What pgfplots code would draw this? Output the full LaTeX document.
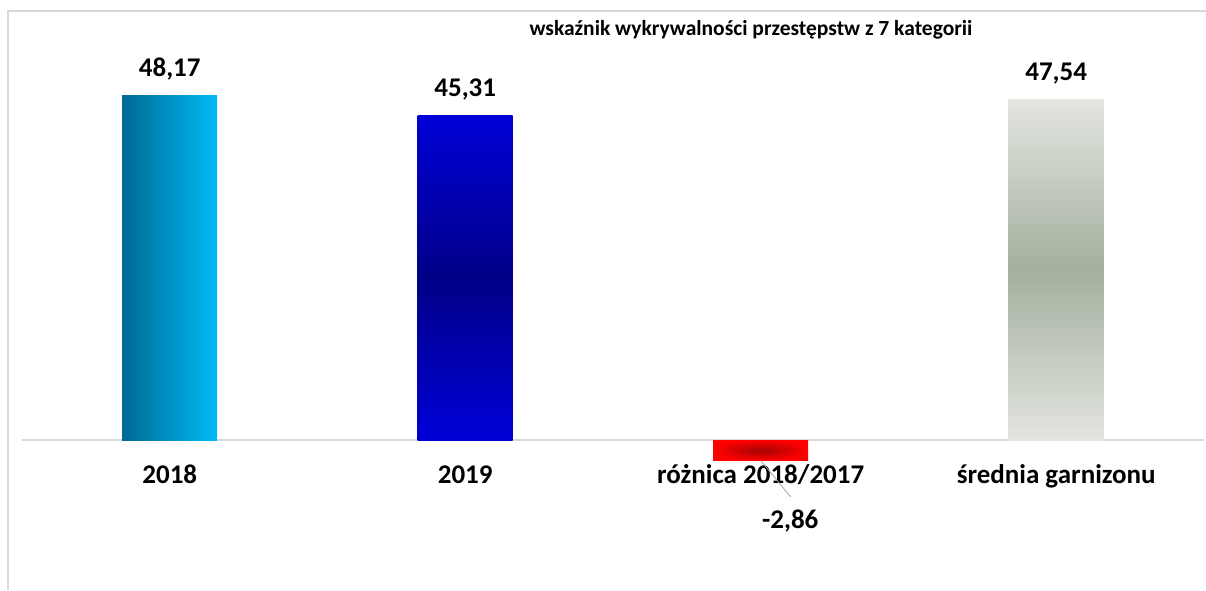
\documentclass[border=0pt]{standalone}
\usepackage{pgfplots}
\pgfplotsset{compat=1.18}
\usepackage{fontspec}
\setmainfont{Carlito}
\definecolor{framegray}{RGB}{217,217,217}
\definecolor{leadgray}{RGB}{166,166,166}
\definecolor{tealdark}{RGB}{0,105,148}
\definecolor{cyanlight}{RGB}{0,187,246}
\definecolor{navyin}{RGB}{0,0,135}
\definecolor{blueout}{RGB}{0,0,215}
\definecolor{redin}{RGB}{165,5,5}
\definecolor{redout}{RGB}{255,0,0}
\definecolor{grayin}{RGB}{163,176,158}
\definecolor{grayout}{RGB}{227,229,224}

\begin{document}
\begin{tikzpicture}[x=1pt,y=1pt]
\path[use as bounding box] (0,0) rectangle (1206,590);
\draw[framegray, line width=1.5pt] (8,0) -- (8,579) -- (1206,579);
\node[font=\fontsize{21.5}{26}\selectfont\bfseries] at (751,560)
  {wskaźnik wykrywalności przestępstw z 7 kategorii};

\begin{axis}[
    at={(22pt,128.5pt)}, anchor=south west, scale only axis,
    width=1182pt, height=379.5pt,
    xmin=-0.5, xmax=3.5, ymin=-3, ymax=50,
    axis line style={draw=none},
    ytick=\empty,
    xtick={0,1,2,3},
    xticklabels={2018,2019,różnica 2018/2017,średnia garnizonu},
    major tick length=0pt,
    xticklabel style={anchor=base, yshift=-21.5pt,
        font=\fontsize{27}{32}\selectfont\bfseries},
    clip=false,
    nodes near coords, point meta=y,
    nodes near coords style={font=\fontsize{27}{32}\selectfont\bfseries,
        inner sep=0pt, yshift=14.8pt,
        /pgf/number format/fixed, /pgf/number format/fixed zerofill,
        /pgf/number format/precision=2, /pgf/number format/use comma,
        /pgf/number format/assume math mode=true},
]
\draw[framegray, line width=1.5pt] (axis cs:-0.5,0) -- (axis cs:3.5,0);

% 2018
\addplot[ybar, bar width=95pt, bar shift=0pt, draw=none,
    left color=tealdark, right color=cyanlight]
    coordinates {(0,48.17)};
% 2019
\addplot[ybar, bar width=95pt, bar shift=0pt, draw=none,
    top color=blueout, bottom color=blueout, middle color=navyin]
    coordinates {(1,45.31)};
% roznica
\addplot[ybar, bar width=95pt, bar shift=0pt, draw=none,
    inner color=redin, outer color=redout,
    nodes near coords style={xshift=29.5pt, yshift=-64pt}]
    coordinates {(2,-2.86)};
% srednia
\addplot[ybar, bar width=95pt, bar shift=0pt, draw=none,
    top color=grayout, bottom color=grayout, middle color=grayin]
    coordinates {(3,47.54)};

\draw[leadgray, line width=0.8pt] (axis cs:2,-2.86) -- (axis cs:2.1015,-7.96);
\end{axis}
\end{tikzpicture}
\end{document}
